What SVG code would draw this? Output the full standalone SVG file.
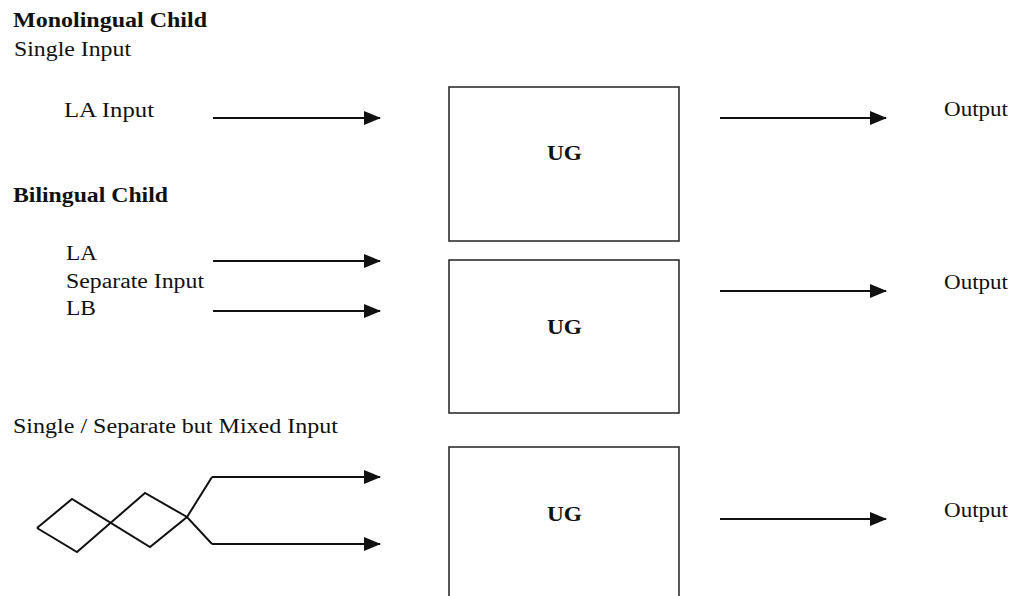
<svg xmlns="http://www.w3.org/2000/svg" width="1015" height="596" viewBox="0 0 1015 596">
<style>
text{font-family:"Liberation Serif","Times New Roman",serif;font-size:20.5px;fill:#111}
.b{font-weight:bold}
.box{fill:#fff;stroke:#222;stroke-width:1.5}
.conn{stroke:#111;stroke-width:2;fill:none}
.arr{marker-end:url(#ah)}
</style>
<defs>
<marker id="ah" markerWidth="17" markerHeight="14" refX="16" refY="7" orient="auto" markerUnits="userSpaceOnUse">
<path d="M0,0 L17,7 L0,14 Z" fill="#111"/>
</marker>
</defs>
<rect width="1015" height="596" fill="#fff"/>
<g id="labels">
<text x="13" y="27" class="b" textLength="194" lengthAdjust="spacingAndGlyphs">Monolingual Child</text>
<text x="14" y="56" textLength="117" lengthAdjust="spacingAndGlyphs">Single Input</text>
<text x="64" y="117" textLength="90" lengthAdjust="spacingAndGlyphs">LA Input</text>
<text x="13" y="202" class="b" textLength="155" lengthAdjust="spacingAndGlyphs">Bilingual Child</text>
<text x="66" y="260" textLength="31" lengthAdjust="spacingAndGlyphs">LA</text>
<text x="66" y="288" textLength="138" lengthAdjust="spacingAndGlyphs">Separate Input</text>
<text x="66" y="315" textLength="30" lengthAdjust="spacingAndGlyphs">LB</text>
<text x="13" y="433" textLength="325" lengthAdjust="spacingAndGlyphs">Single / Separate but Mixed Input</text>
<text x="944" y="116" textLength="64" lengthAdjust="spacingAndGlyphs">Output</text>
<text x="944" y="289" textLength="64" lengthAdjust="spacingAndGlyphs">Output</text>
<text x="944" y="517" textLength="64" lengthAdjust="spacingAndGlyphs">Output</text>
</g>
<g id="ug1"><rect class="box" x="449" y="87" width="230" height="154"/><text x="547" y="160" class="b" textLength="35" lengthAdjust="spacingAndGlyphs">UG</text></g>
<g id="ug2"><rect class="box" x="449" y="260" width="230" height="153"/><text x="547" y="334" class="b" textLength="35" lengthAdjust="spacingAndGlyphs">UG</text></g>
<g id="ug3"><rect class="box" x="449" y="447" width="230" height="170"/><text x="547" y="521" class="b" textLength="35" lengthAdjust="spacingAndGlyphs">UG</text></g>
<g id="mixed">
<path class="conn" stroke-width="1.5" d="M37,528 L72,499 L150,547 L187,517 L212,477"/>
<path class="conn" stroke-width="1.5" d="M37,528 L77,552 L145,493 L187,517 L212,544"/>
</g>
<g id="connectors">
<line class="conn arr" x1="213" y1="118" x2="380" y2="118"/>
<line class="conn arr" x1="720" y1="118" x2="886" y2="118"/>
<line class="conn arr" x1="213" y1="261" x2="380" y2="261"/>
<line class="conn arr" x1="213" y1="311" x2="380" y2="311"/>
<line class="conn arr" x1="720" y1="291" x2="886" y2="291"/>
<line class="conn arr" x1="212" y1="477" x2="380" y2="477"/>
<line class="conn arr" x1="212" y1="544" x2="380" y2="544"/>
<line class="conn arr" x1="720" y1="519" x2="886" y2="519"/>
</g>
</svg>
